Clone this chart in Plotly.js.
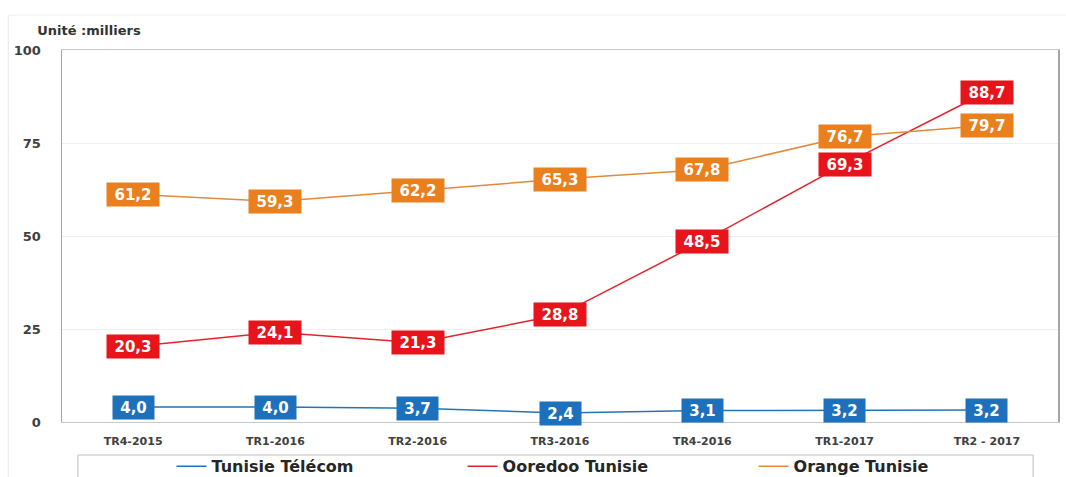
<!DOCTYPE html>
<html>
<head>
<meta charset="utf-8">
<script src="https://cdn.plot.ly/plotly-3.0.1.min.js"></script>
<style>html,body{margin:0;padding:0;background:#fff;}#chart{width:1066px;height:477px;}</style>
</head>
<body>
<div id="chart"></div>
<script>
const categories = ["TR4-2015", "TR1-2016", "TR2-2016", "TR3-2016", "TR4-2016", "TR1-2017", "TR2 - 2017"];
const seriesNames = ["Tunisie Télécom", "Ooredoo Tunisie", "Orange Tunisie"];
const tunisieTelecom = [4.0, 4.0, 3.7, 2.4, 3.1, 3.2, 3.2];
const ooredooTunisie = [20.3, 24.1, 21.3, 28.8, 48.5, 69.3, 88.7];
const orangeTunisie = [61.2, 59.3, 62.2, 65.3, 67.8, 76.7, 79.7];
const yTicks = [0, 25, 50, 75, 100];
const unitLabel = "Unité :milliers";

const series = [tunisieTelecom, ooredooTunisie, orangeTunisie];
const lineColors = ["#2474B8", "#E4222B", "#E08A3A"];
const boxColors = ["#1C70BC", "#E8141C", "#EA7F1E"];
const FONT = "DejaVu Sans, Verdana, sans-serif";

const traces = series.map((vals, i) => ({
  type: "scatter",
  mode: "lines",
  name: seriesNames[i],
  x: categories,
  y: vals,
  line: {color: lineColors[i], width: 1.5},
  hoverinfo: "skip"
}));

const annotations = [];
series.forEach((vals, i) => {
  vals.forEach((v, j) => {
    const label = v.toFixed(1).replace(".", ",");
    annotations.push({
      x: categories[j], y: v, xref: "x", yref: "y",
      text: label,
      showarrow: false,
      xanchor: "center", yanchor: "middle",
      bgcolor: boxColors[i],
      borderpad: 4,
      width: label.length * 11,
      height: 15,
      font: {family: FONT, size: 15, color: "#ffffff", weight: "bold"}
    });
  });
});

const layout = {
  width: 1066, height: 477,
  paper_bgcolor: "#ffffff", plot_bgcolor: "#ffffff",
  margin: {l: 62, r: 8, t: 50, b: 55},
  font: {family: FONT, color: "#404040"},
  title: {
    text: unitLabel,
    x: 0.035, xanchor: "left", xref: "container",
    y: 0.937, yanchor: "middle", yref: "container",
    font: {family: FONT, size: 13, color: "#333333", weight: "bold"}
  },
  xaxis: {
    type: "category",
    range: [-0.5, 6.5],
    showgrid: false,
    showline: true, linecolor: "#c8c8c8", linewidth: 1, mirror: true,
    ticks: "", ticklabelstandoff: 9,
    tickfont: {family: FONT, size: 11, color: "#404040", weight: "bold"},
    fixedrange: true
  },
  yaxis: {
    range: [0, 100],
    tickvals: yTicks,
    showgrid: true, gridcolor: "#efefef", gridwidth: 1,
    zeroline: false,
    showline: true, linecolor: "#a6a6a6", linewidth: 1.5, mirror: true,
    ticks: "", ticklabelstandoff: 17,
    tickfont: {family: FONT, size: 13, color: "#404040", weight: "bold"},
    fixedrange: true
  },
  showlegend: true,
  legend: {
    orientation: "h",
    xref: "paper", x: 0.11, xanchor: "left",
    yref: "container", y: 0.058, yanchor: "top",
    entrywidth: 246, entrywidthmode: "pixels",
    bgcolor: "rgba(0,0,0,0)",
    borderwidth: 0,
    itemwidth: 30,
    font: {family: FONT, size: 16, color: "#262626", weight: "bold"}
  },
  shapes: [
    {type: "rect", xref: "paper", yref: "paper",
     x0: 0.016, x1: 0.975, y0: -0.2, y1: -0.0887,
     line: {color: "#bfbfbf", width: 1}, fillcolor: "rgba(0,0,0,0)", layer: "below"},
    {type: "line", xref: "paper", yref: "paper",
     x0: -0.054, x1: -0.054, y0: 1.094, y1: -0.2,
     line: {color: "#e6e6e6", width: 1}},
    {type: "line", xref: "paper", yref: "paper",
     x0: -0.054, x1: 1.02, y0: 1.094, y1: 1.094,
     line: {color: "#eeeeee", width: 1}}
  ],
  annotations: annotations
};

Plotly.newPlot("chart", traces, layout, {staticPlot: true, displayModeBar: false});
</script>
</body>
</html>
